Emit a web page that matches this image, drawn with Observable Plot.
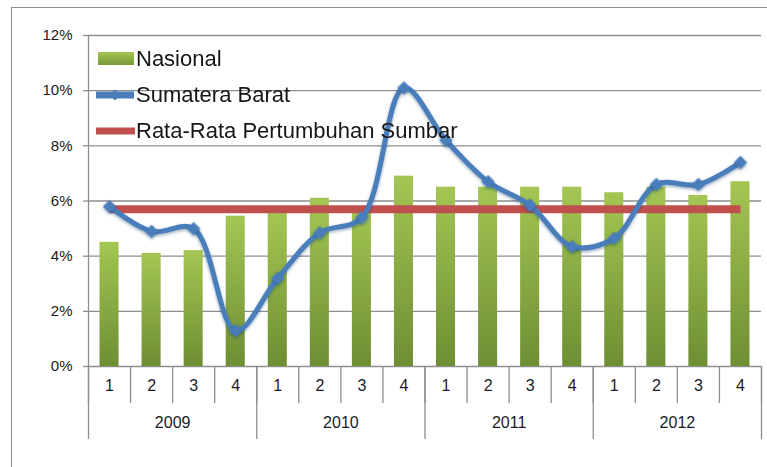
<!DOCTYPE html>
<html>
<head>
<meta charset="utf-8">
<script src="https://cdn.jsdelivr.net/npm/d3@7"></script>
<script src="https://cdn.jsdelivr.net/npm/@observablehq/plot@0.6"></script>
<style>
  html, body { margin: 0; padding: 0; background: #fff; overflow: hidden; }
  #wrap { position: relative; width: 767px; height: 467px; }
  #frame { position: absolute; left: 11px; top: 7px; width: 800px; height: 500px; border: 1px solid #8c8c8c; box-sizing: border-box; }
  #chart { position: absolute; left: 0; top: 0; }
  #legend { position: absolute; left: 96px; top: 41px; font-family: "Liberation Sans", Arial, sans-serif; font-size: 22px; color: #161616; }
  .row { display: flex; align-items: center; height: 36px; }
  .row svg { flex: none; margin-right: 1px; }
</style>
</head>
<body>
<div id="wrap">
  <div id="frame"></div>
  <div id="chart"></div>
  <div id="legend"></div>
</div>
<script>
// ---- data ----
const years = ["2009", "2010", "2011", "2012"];
const quarters = ["1", "2", "3", "4"];
const nasional = [4.5, 4.1, 4.2, 5.45, 5.6, 6.1, 5.8, 6.9, 6.5, 6.5, 6.5, 6.5, 6.3, 6.5, 6.2, 6.7];
const sumbar = [5.8, 4.9, 5.0, 1.3, 3.2, 4.85, 5.4, 10.1, 8.2, 6.7, 5.85, 4.35, 4.65, 6.6, 6.6, 7.4];
const rataRata = 5.7;
const yTicks = [0, 2, 4, 6, 8, 10, 12];
const seriesNames = ["Nasional", "Sumatera Barat", "Rata-Rata Pertumbuhan Sumbar"];

const table = [];
years.forEach((yr, yi) => quarters.forEach((q, qi) => {
  const i = yi * quarters.length + qi;
  table.push({i, year: yr, q, nasional: nasional[i], sumbar: sumbar[i], avg: rataRata});
}));
const yearTable = years.map((yr, yi) => ({year: yr, mid: yi * quarters.length + quarters.length / 2}));
const n = table.length;
const boundaries = d3.range(n + 1);
const yearBounds = d3.range(0, n + 1, quarters.length);

const green = "url(#barGrad)";
const blue = "#4A7EBB";
const red = "#C0504D";
const grid = "#8e8e8e";

const plot = Plot.plot({
  width: 767,
  height: 467,
  marginLeft: 88,
  marginRight: 6,
  marginTop: 35,
  marginBottom: 101,
  style: {fontFamily: "'Liberation Sans', Arial, sans-serif", fontSize: "15px", color: "#1a1a1a", background: "transparent"},
  x: {type: "linear", domain: [0, n], axis: null},
  y: {domain: [0, 12], axis: null},
  marks: [
    Plot.gridY(yTicks, {stroke: grid, strokeOpacity: 1, strokeWidth: 1.3}),
    Plot.axisY(yTicks, {tickSize: 5, tickPadding: 11, stroke: grid, strokeWidth: 1.3, tickFormat: d => d + "%", fontSize: 15}),
    Plot.rectY(table, {x1: "i", x2: d => d.i + 1, y: "nasional", fill: green, insetLeft: 11.5, insetRight: 11.5}),
    Plot.ruleX([0], {stroke: grid, strokeWidth: 1.3}),
    Plot.axisX(boundaries, {tickSize: 37, tickFormat: () => "", stroke: grid, strokeWidth: 1.3}),
    Plot.axisX(yearBounds, {tickSize: 73, tickFormat: () => "", stroke: grid, strokeWidth: 1.3}),
    Plot.text(table, {x: d => d.i + 0.5, frameAnchor: "bottom", dy: 24, text: "q", fontSize: 16, fill: "#1a1a2a"}),
    Plot.text(yearTable, {x: "mid", frameAnchor: "bottom", dy: 61, text: "year", fontSize: 16, fill: "#1a1a2a"}),
    Plot.line(table, {x: d => d.i + 0.5, y: "avg", stroke: red, strokeWidth: 8, strokeLinecap: "butt"}),
    Plot.line(table, {x: d => d.i + 0.5, y: "sumbar", stroke: blue, strokeWidth: 5, curve: "catmull-rom", className: "sline"}),
    Plot.dot(table, {x: d => d.i + 0.5, y: "sumbar", symbol: "diamond2", r: 5, fill: blue, stroke: blue, strokeWidth: 1.5, className: "sdot"})
  ]
});

// gradient for bars
const svg = d3.select(plot);
const defs = svg.insert("defs", ":first-child");
const g = defs.append("linearGradient").attr("id", "barGrad").attr("x1", 0).attr("y1", 0).attr("x2", 0).attr("y2", 1);
g.append("stop").attr("offset", "0%").attr("stop-color", "#A3C653");
g.append("stop").attr("offset", "100%").attr("stop-color", "#6E8E33");
const f = defs.append("filter").attr("id", "glow").attr("x", "-20%").attr("y", "-20%").attr("width", "140%").attr("height", "140%");
f.append("feDropShadow").attr("dx", 0).attr("dy", 1.5).attr("stdDeviation", 1.5).attr("flood-color", "#1f3f6a").attr("flood-opacity", 0.45);
svg.selectAll(".sline, .sdot").attr("filter", "url(#glow)");

document.getElementById("chart").appendChild(plot);

// legend
const legend = d3.select("#legend");
const swatches = [
  s => s.append("rect").attr("x", 2).attr("y", 11).attr("width", 36).attr("height", 13).attr("fill", "url(#legGrad)"),
  s => { s.append("line").attr("x1", 0).attr("x2", 38).attr("y1", 18).attr("y2", 18).attr("stroke", blue).attr("stroke-width", 7);
         s.append("path").attr("d", d3.symbol(d3.symbolDiamond2, 80)()).attr("transform", "translate(19,18)").attr("fill", blue); },
  s => s.append("line").attr("x1", 0).attr("x2", 39).attr("y1", 18).attr("y2", 18).attr("stroke", red).attr("stroke-width", 7)
];
seriesNames.forEach((name, k) => {
  const row = legend.append("div").attr("class", "row");
  const s = row.append("svg").attr("width", 39).attr("height", 36);
  if (k === 0) {
    const lg = s.append("defs").append("linearGradient").attr("id", "legGrad").attr("x1", 0).attr("y1", 0).attr("x2", 0).attr("y2", 1);
    lg.append("stop").attr("offset", "0%").attr("stop-color", "#A3C653");
    lg.append("stop").attr("offset", "100%").attr("stop-color", "#7A9A3A");
  }
  swatches[k](s);
  row.append("span").text(name);
});
</script>
</body>
</html>
